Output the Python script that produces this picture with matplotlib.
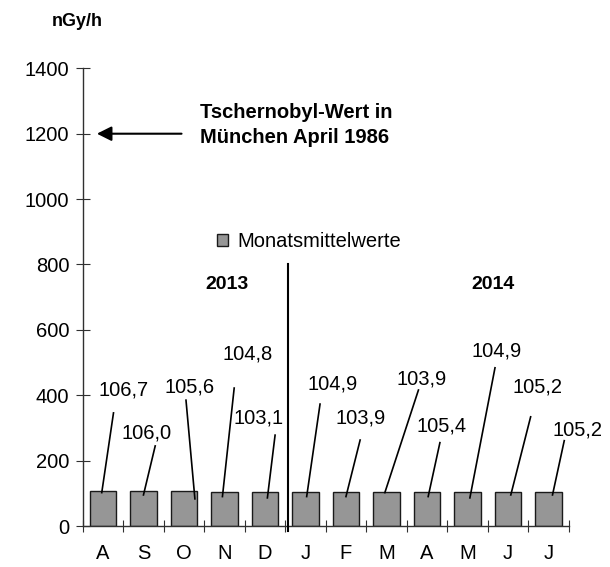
"""Monthly mean gamma dose rate bars, Aug 2013 - Jul 2014."""

import numpy as np
import matplotlib.pyplot as plt

plt.rcParams["font.family"] = ["Liberation Sans", "DejaVu Sans"]

months = ["A", "S", "O", "N", "D", "J", "F", "M", "A", "M", "J", "J"]
values = [106.7, 106.0, 105.6, 104.8, 103.1, 104.9, 103.9, 103.9, 105.4, 104.9, 105.2, 105.2]
chernobyl_value = 1200
yticks = [0, 200, 400, 600, 800, 1000, 1200, 1400]

# label layout: (text x, text y, leader start x, leader start y, leader end x, leader end y)
label_layout = [
    (0.50, 416, 0.26, 346, -0.03, 102),
    (1.08, 285, 1.29, 245, 1.00, 95),
    (2.15, 425, 2.05, 385, 2.27, 83),
    (3.58, 526, 3.24, 422, 2.95, 90),
    (3.83, 330, 4.25, 278, 4.06, 86),
    (5.68, 434, 5.36, 373, 5.03, 90),
    (6.35, 330, 6.35, 263, 6.00, 90),
    (7.87, 450, 7.79, 416, 6.96, 102),
    (8.36, 306, 8.32, 255, 8.03, 90),
    (9.72, 536, 9.68, 484, 9.06, 86),
    (10.72, 424, 10.56, 334, 10.07, 95),
    (11.71, 294, 11.39, 261, 11.10, 95),
]

fig = plt.figure(figsize=(6.1, 5.67), dpi=100)
ax = fig.add_axes([0.1356, 0.0723, 0.7967, 0.8072])

x = np.arange(len(months))
bars = ax.bar(x, values, width=0.66, color="#969696", edgecolor="#1a1a1a",
              linewidth=1.0, label="Monatsmittelwerte", zorder=2)

ax.set_xlim(-0.5, len(months) - 0.5)
ax.set_ylim(0, 1400)

for side in ("top", "right"):
    ax.spines[side].set_visible(False)
for side in ("left", "bottom"):
    ax.spines[side].set_color("#303030")
    ax.spines[side].set_linewidth(1.0)

ax.set_yticks(yticks)
ax.tick_params(axis="y", direction="inout", length=9.4, width=0.8, color="#303030",
               labelsize=14.5, pad=5)
ax.set_xticks(x)
ax.set_xticklabels(months)
ax.tick_params(axis="x", which="major", length=0, labelsize=14.5, pad=13)
ax.set_xticks(np.arange(-0.5, len(months), 1.0), minor=True)
ax.tick_params(axis="x", which="minor", direction="inout", length=8, width=0.8,
               color="#303030")

for val, (tx, ty, sx, sy, ex, ey) in zip(values, label_layout):
    ax.text(tx, ty, f"{val:.1f}".replace(".", ","), ha="center", va="center",
            fontsize=14.5, zorder=4)
    ax.plot([sx, ex], [sy, ey], color="black", linewidth=1.2, zorder=3)

# separator between years
ax.plot([4.57, 4.57], [-15, 800], color="black", linewidth=1.5, clip_on=False, zorder=3)
ax.text(3.06, 740, "2013", ha="center", va="center", fontsize=14, fontweight="bold")
ax.text(9.63, 740, "2014", ha="center", va="center", fontsize=14, fontweight="bold")

# Chernobyl reference arrow
ax.annotate("", xy=(-0.15, chernobyl_value), xytext=(1.94, chernobyl_value),
            arrowprops=dict(arrowstyle="-|>", color="black", lw=1.5,
                            mutation_scale=22, shrinkA=0, shrinkB=0))
ax.text(2.40, 1227, "Tschernobyl-Wert in\nMünchen April 1986", ha="left", va="center",
        fontsize=14.5, fontweight="bold", linespacing=1.35)

ax.legend(handles=[bars], loc="center left", bbox_to_anchor=(0.276, 0.621),
          frameon=False, fontsize=14.5, handlelength=0.55, handleheight=0.55,
          handletextpad=0.45, borderaxespad=0, borderpad=0)

fig.text(0.126, 0.962, "nGy/h", ha="center", va="center", fontsize=13, fontweight="bold")

fig.savefig("out.png", dpi=100)
